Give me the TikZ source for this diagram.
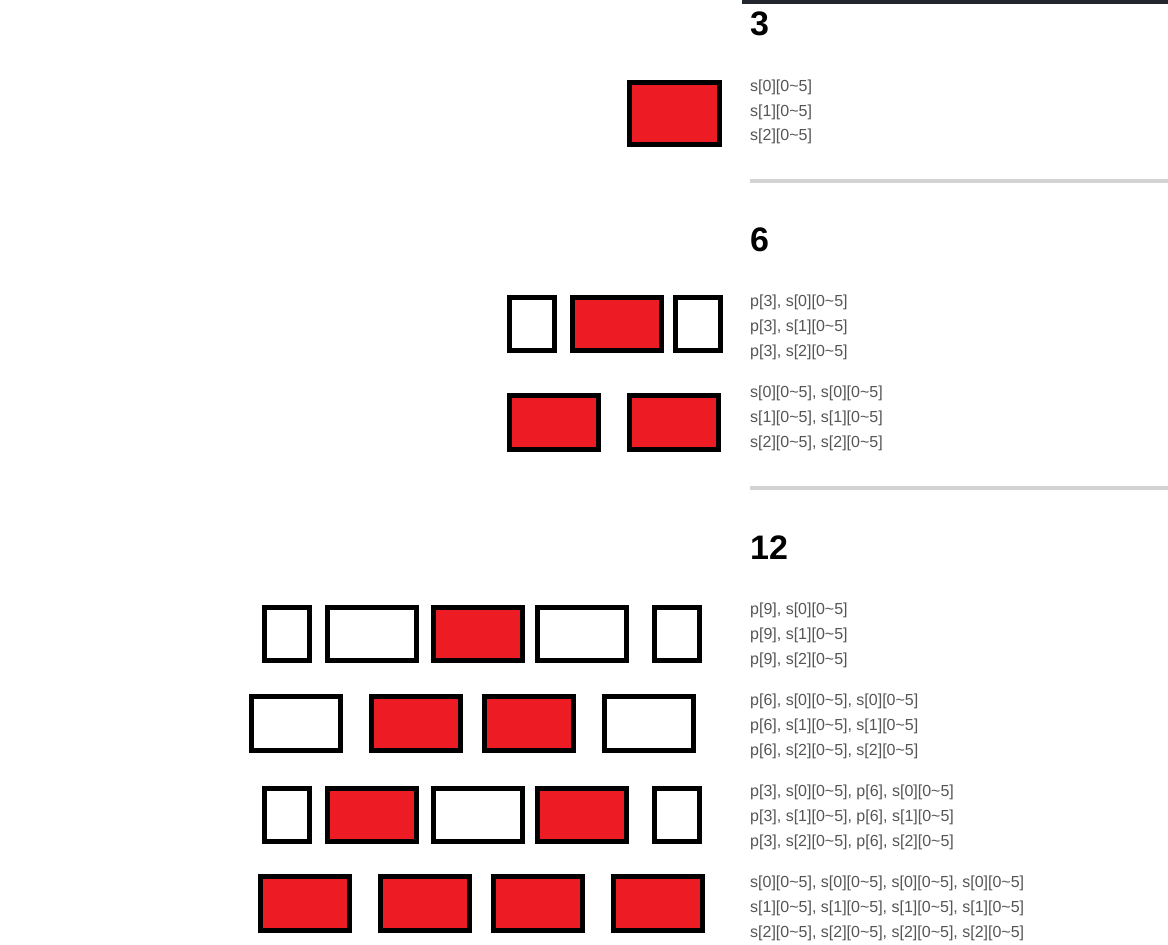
\documentclass[tikz,border=0pt]{standalone}
\usepackage{fontspec}
\setmainfont{Liberation Sans}
\usepackage{xcolor}
\definecolor{boxred}{HTML}{ED1C24}
\definecolor{txtgray}{HTML}{555555}
\definecolor{rulegray}{HTML}{D3D3D3}
\definecolor{topdark}{HTML}{23262E}
\newcommand{\sv}[1]{s[#1][0\textasciitilde5]}

\begin{document}
\begin{tikzpicture}[x=1pt,y=-1pt,
    redbox/.style={draw=black,line width=5pt,fill=boxred,inner sep=0pt,minimum height=53.5pt},
    wbox/.style={draw=black,line width=5pt,fill=white,inner sep=0pt,minimum height=53.5pt},
    big/.style={minimum width=89pt},
    small/.style={minimum width=45pt},
    head/.style={anchor=base west,inner sep=0pt,font=\fontsize{34}{34}\selectfont\bfseries},
    entry/.style={anchor=base west,inner sep=0pt,text=txtgray,font=\fontsize{16}{16}\selectfont}]
    \fill[white] (0,0) rectangle (1168,945);
    \useasboundingbox (0,0) rectangle (1168,945);
    \coordinate (tl) at (742,2);
    \coordinate (tr) at (1168,2);
    \coordinate (ra) at (750,181);
    \coordinate (rb) at (1168,181);
    \coordinate (rc) at (750,488);
    \coordinate (rd) at (1168,488);
    \draw[topdark,line width=4pt] (tl) -- (tr);
    \draw[rulegray,line width=3.5pt] (ra) -- (rb);
    \draw[rulegray,line width=4pt] (rc) -- (rd);
    \node[head] (h3) at (750,35) {3};
    \node[head] (h6) at (750,251) {6};
    \node[head] (h12) at (750,559) {12};
    \node[redbox,minimum width=90pt,minimum height=62pt] (a) at (674.5,113.5) {};
    \node[entry] (a1) at (750,91) {\sv{0}};
    \node[entry] (a2) at (750,116) {\sv{1}};
    \node[entry] (a3) at (750,140) {\sv{2}};
    \node[wbox,small] (b1) at (532,324) {};
    \node[redbox,big] (b2) at (617,324) {};
    \node[wbox,small] (b3) at (698,324) {};
    \node[entry] (b4) at (750,306) {p[3], \sv{0}};
    \node[entry] (b5) at (750,331) {p[3], \sv{1}};
    \node[entry] (b6) at (750,356) {p[3], \sv{2}};
    \node[redbox,big] (c1) at (554,422.5) {};
    \node[redbox,big] (c2) at (674,422.5) {};
    \node[entry] (c3) at (750,397) {\sv{0}, \sv{0}};
    \node[entry] (c4) at (750,422) {\sv{1}, \sv{1}};
    \node[entry] (c5) at (750,447) {\sv{2}, \sv{2}};
    \node[wbox,small] (d1) at (287,634) {};
    \node[wbox,big] (d2) at (372,634) {};
    \node[redbox,big] (d3) at (478,634) {};
    \node[wbox,big] (d4) at (582,634) {};
    \node[wbox,small] (d5) at (677,634) {};
    \node[entry] (d6) at (750,614) {p[9], \sv{0}};
    \node[entry] (d7) at (750,639) {p[9], \sv{1}};
    \node[entry] (d8) at (750,664) {p[9], \sv{2}};
    \node[wbox,big] (e1) at (296,723.5) {};
    \node[redbox,big] (e2) at (416,723.5) {};
    \node[redbox,big] (e3) at (529,723.5) {};
    \node[wbox,big] (e4) at (649,723.5) {};
    \node[entry] (e5) at (750,705) {p[6], \sv{0}, \sv{0}};
    \node[entry] (e6) at (750,730) {p[6], \sv{1}, \sv{1}};
    \node[entry] (e7) at (750,755) {p[6], \sv{2}, \sv{2}};
    \node[wbox,small] (f1) at (287,815) {};
    \node[redbox,big] (f2) at (372,815) {};
    \node[wbox,big] (f3) at (478,815) {};
    \node[redbox,big] (f4) at (582,815) {};
    \node[wbox,small] (f5) at (677,815) {};
    \node[entry] (f6) at (750,796) {p[3], \sv{0}, p[6], \sv{0}};
    \node[entry] (f7) at (750,821) {p[3], \sv{1}, p[6], \sv{1}};
    \node[entry] (f8) at (750,846) {p[3], \sv{2}, p[6], \sv{2}};
    \node[redbox,big] (g1) at (305,903.5) {};
    \node[redbox,big] (g2) at (425,903.5) {};
    \node[redbox,big] (g3) at (538,903.5) {};
    \node[redbox,big] (g4) at (658,903.5) {};
    \node[entry] (g5) at (750,887) {\sv{0}, \sv{0}, \sv{0}, \sv{0}};
    \node[entry] (g6) at (750,912) {\sv{1}, \sv{1}, \sv{1}, \sv{1}};
    \node[entry] (g7) at (750,937) {\sv{2}, \sv{2}, \sv{2}, \sv{2}};
\end{tikzpicture}
\end{document}
